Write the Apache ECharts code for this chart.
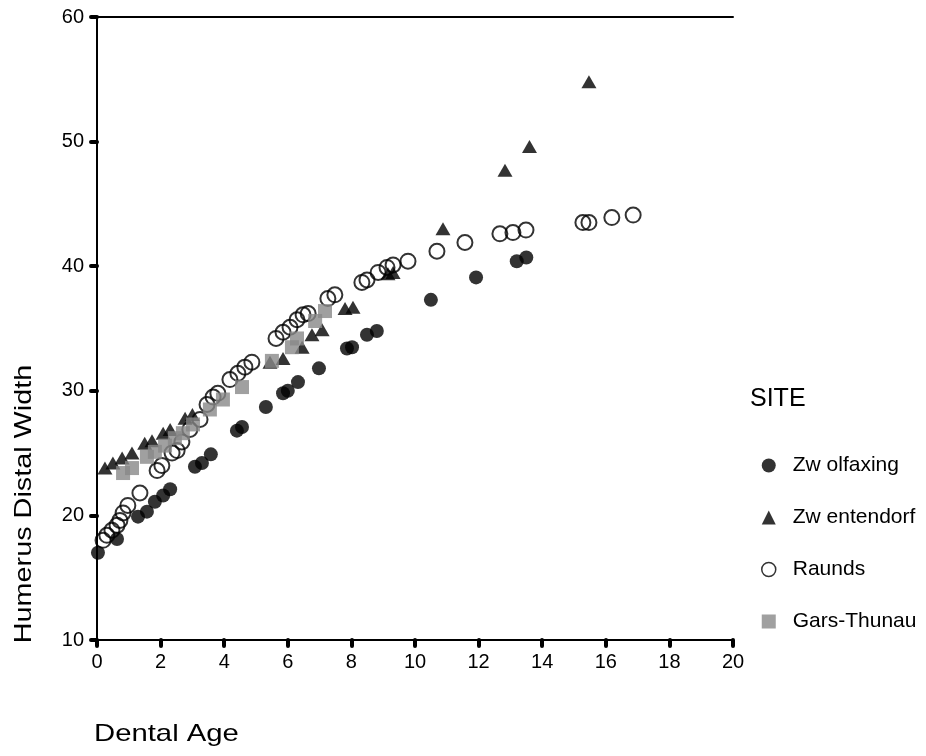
<!DOCTYPE html>
<html><head><meta charset="utf-8">
<script src="https://cdn.jsdelivr.net/npm/echarts@6/dist/echarts.min.js"></script>
<style>html,body{margin:0;padding:0;background:#fff}#c{width:926px;height:756px}</style>
</head><body><div id="c"></div>
<script>
var seriesNames = ["Zw olfaxing", "Zw entendorf", "Raunds", "Gars-Thunau"];
var xTicks = [0,2,4,6,8,10,12,14,16,18,20];
var yTicks = [10,20,30,40,50,60];
var zwolfaxing = [[0.03,17.0],[0.63,18.1],[1.29,19.9],[1.57,20.3],[1.82,21.1],[2.08,21.6],[2.3,22.1],[3.08,23.9],[3.3,24.2],[3.58,24.9],[4.4,26.8],[4.56,27.1],[5.31,28.7],[5.85,29.8],[6.0,30.0],[6.32,30.7],[6.98,31.8],[7.86,33.4],[8.02,33.5],[8.49,34.5],[8.8,34.8],[10.5,37.3],[11.92,39.1],[13.2,40.4],[13.5,40.7]];
var zwentendorf = [[0.25,23.8],[0.5,24.2],[0.79,24.6],[1.1,25.0],[1.5,25.8],[1.73,26.0],[2.08,26.6],[2.3,26.9],[2.77,27.8],[3.0,28.1],[5.44,32.3],[5.85,32.6],[6.45,33.5],[6.76,34.5],[7.08,34.9],[7.8,36.6],[8.05,36.7],[9.15,39.4],[9.31,39.5],[10.88,43.0],[12.83,47.7],[13.6,49.6],[15.47,54.8]];
var raunds = [[0.19,18.0],[0.31,18.4],[0.47,18.8],[0.63,19.2],[0.72,19.6],[0.82,20.2],[0.97,20.8],[1.35,21.8],[1.89,23.6],[2.04,24.0],[2.36,25.0],[2.52,25.2],[2.67,25.9],[2.92,26.9],[3.24,27.7],[3.46,28.9],[3.65,29.5],[3.8,29.8],[4.18,30.9],[4.43,31.4],[4.65,31.9],[4.87,32.3],[5.63,34.2],[5.85,34.7],[6.07,35.1],[6.29,35.7],[6.48,36.1],[6.64,36.2],[7.26,37.4],[7.48,37.7],[8.33,38.7],[8.49,38.9],[8.84,39.5],[9.12,39.9],[9.31,40.1],[9.78,40.4],[10.69,41.2],[11.57,41.9],[12.67,42.6],[13.08,42.7],[13.49,42.9],[15.28,43.5],[15.47,43.5],[16.19,43.9],[16.86,44.1]];
var garsThunau = [[0.82,23.4],[1.1,23.8],[1.57,24.7],[1.82,25.1],[2.14,25.6],[2.45,26.2],[2.7,26.6],[3.02,27.3],[3.55,28.5],[3.96,29.3],[4.56,30.3],[5.5,32.4],[6.13,33.5],[6.29,34.2],[6.86,35.6],[7.17,36.4]];

var chart = echarts.init(document.getElementById('c'));
var font = 'Liberation Sans, Arial, sans-serif';
var axisCommon = {
  axisLine: {show: true, lineStyle: {color: '#000', width: 2}},
  axisTick: {show: true, length: 6, lineStyle: {color: '#000', width: 4, cap: 'round'}},
  splitLine: {show: false}
};
chart.setOption({
  animation: false,
  backgroundColor: '#fff',
  grid: {left: 97, right: 193, top: 17, bottom: 116, containLabel: false},
  xAxis: [
    Object.assign({type: 'value', min: xTicks[0], max: xTicks[xTicks.length-1], interval: 2, position: 'bottom',
      axisLabel: {color: '#000', fontSize: 20, fontFamily: font, margin: 12}}, axisCommon),
    {type: 'value', min: 0, max: 20, position: 'top', axisLine: {show: true, lineStyle: {color: '#000', width: 2}},
      axisTick: {show: false}, axisLabel: {show: false}, splitLine: {show: false}}
  ],
  yAxis: [
    Object.assign({type: 'value', min: yTicks[0], max: yTicks[yTicks.length-1], interval: 10, position: 'left',
      axisLabel: {color: '#000', fontSize: 20, fontFamily: font, margin: 13}}, axisCommon),
    {type: 'value', min: 10, max: 60, position: 'right', axisLine: {show: true, lineStyle: {color: '#000', width: 2}},
      axisTick: {show: false}, axisLabel: {show: false}, splitLine: {show: false}}
  ],
  legend: {
    orient: 'vertical', left: 756, top: 450, itemGap: 31, itemWidth: 14, itemHeight: 14,
    textStyle: {color: '#000', fontSize: 21, fontFamily: font, padding: [0, 0, 0, 12]},
    data: [
      {name: seriesNames[0], icon: 'circle', itemStyle: {color: '#000'}},
      {name: seriesNames[1], icon: 'triangle', itemStyle: {color: '#000'}},
      {name: seriesNames[2], icon: 'circle', itemStyle: {color: '#fff', borderColor: '#000', borderWidth: 1.5}},
      {name: seriesNames[3], icon: 'rect', itemStyle: {color: '#888'}}
    ]
  },
  graphic: [
    {type: 'text', x: 750, y: 399, style: {text: 'SITE', fontSize: 25, fontFamily: font, fill: '#000', verticalAlign: 'middle'}},
    {type: 'text', x: 94, y: 734, scaleX: 1.22, style: {text: 'Dental Age', fontSize: 24, fontFamily: font, fill: '#000', verticalAlign: 'middle'}},
    {type: 'text', x: 24, y: 504, rotation: Math.PI/2, scaleX: 1.2, style: {text: 'Humerus Distal Width', fontSize: 24, fontFamily: font, fill: '#000', align: 'center', verticalAlign: 'middle'}}
  ],
  series: [
    {name: seriesNames[0], type: 'scatter', data: zwolfaxing, symbol: 'circle', symbolSize: 14, itemStyle: {color: '#000'}, z: 2},
    {name: seriesNames[1], type: 'scatter', data: zwentendorf, symbol: 'triangle', symbolSize: [15, 13], itemStyle: {color: '#000'}, z: 3},
    {name: seriesNames[2], type: 'scatter', data: raunds, symbol: 'circle', symbolSize: 15, itemStyle: {color: 'rgba(255,255,255,0)', borderColor: '#000', borderWidth: 2}, z: 4},
    {name: seriesNames[3], type: 'scatter', data: garsThunau, symbol: 'rect', symbolSize: 14, itemStyle: {color: '#888'}, z: 5}
  ]
});
</script></body></html>
